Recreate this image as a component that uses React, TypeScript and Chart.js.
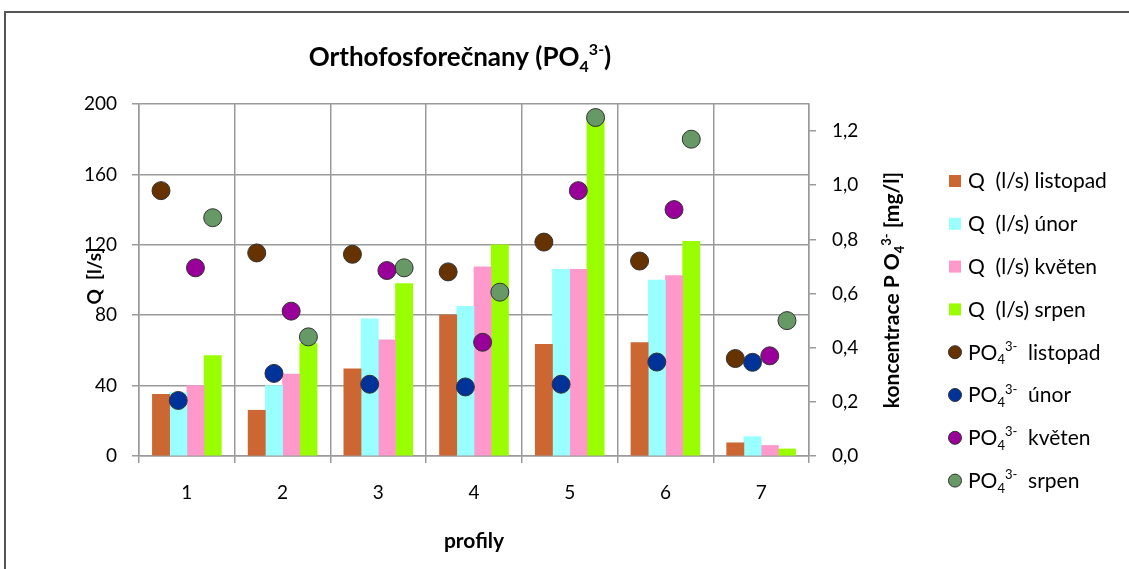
import React, { useEffect, useRef } from "react";
import { Chart, registerables } from "chart.js";

Chart.register(...registerables);

// Profiles along the stream
const profiles = ["1", "2", "3", "4", "5", "6", "7"];

// Discharge Q [l/s] per sampling month
const qListopad = [35, 26, 49.5, 80, 63.5, 64.5, 7.5];
const qUnor = [36, 40, 78, 85, 106, 100, 11];
const qKveten = [40, 46.5, 66, 107.5, 106, 102.5, 6];
const qSrpen = [57, 64, 98, 120, 192, 122, 4];

// Orthophosphate concentration [mg/l] per sampling month
const poListopad = [0.98, 0.75, 0.745, 0.68, 0.79, 0.72, 0.36];
const poUnor = [0.205, 0.305, 0.265, 0.255, 0.265, 0.347, 0.346];
const poKveten = [0.695, 0.535, 0.685, 0.42, 0.98, 0.91, 0.37];
const poSrpen = [0.88, 0.44, 0.695, 0.605, 1.25, 1.17, 0.5];

const months = ["listopad", "únor", "květen", "srpen"];
const qSeries = [qListopad, qUnor, qKveten, qSrpen];
const poSeries = [poListopad, poUnor, poKveten, poSrpen];

const barColors = ["#CC6633", "#99FFFF", "#FF99CC", "#99FF00"];
const pointColors = ["#663300", "#003399", "#990099", "#669966"];

const FONT = "Lato, 'Open Sans', sans-serif";
const GRID = "#9a9a9a";
// share of a category taken by the group of four monthly bars
const GROUP_WIDTH = 0.72;
const SLOT = GROUP_WIDTH / 4;

// position of month j inside profile i on the numeric profile axis
const slotX = (i: number, j: number) => i + 1 + (j - 1.5) * SLOT;

type Part = { t: string; k?: "sub" | "sup" };

function drawRich(
  ctx: CanvasRenderingContext2D,
  parts: Part[],
  x: number,
  y: number,
  size: number,
  bold: boolean,
  align: "left" | "center"
) {
  const w = bold ? "bold " : "";
  const small = Math.round(size * 0.62);
  const fontOf = (p: Part) => `${w}${p.k ? small : size}px ${FONT}`;
  let total = 0;
  for (const p of parts) {
    ctx.font = fontOf(p);
    total += ctx.measureText(p.t).width;
  }
  let cx = align === "center" ? x - total / 2 : x;
  ctx.textBaseline = "alphabetic";
  ctx.textAlign = "left";
  ctx.fillStyle = "#000";
  const base = y + size * 0.35;
  for (const p of parts) {
    ctx.font = fontOf(p);
    const dy = p.k === "sub" ? size * 0.22 : p.k === "sup" ? -size * 0.42 : 0;
    ctx.fillText(p.t, cx, base + dy);
    cx += ctx.measureText(p.t).width;
  }
}

const decorPlugin = {
  id: "decor",
  beforeDraw(chart: any) {
    const ctx = chart.ctx as CanvasRenderingContext2D;
    ctx.save();
    ctx.fillStyle = "#fff";
    ctx.fillRect(0, 0, chart.width, chart.height);
    ctx.strokeStyle = "#555";
    ctx.lineWidth = 2;
    ctx.strokeRect(5, 12, chart.width + 20, chart.height + 20);
    ctx.restore();
  },
  afterDraw(chart: any) {
    const ctx = chart.ctx as CanvasRenderingContext2D;
    const area = chart.chartArea;
    ctx.save();
    // title
    drawRich(
      ctx,
      [{ t: "Orthofosforečnany (PO" }, { t: "4", k: "sub" }, { t: "3-", k: "sup" }, { t: ")" }],
      460,
      57,
      26,
      true,
      "center"
    );
    // x axis title
    drawRich(ctx, [{ t: "profily" }], (area.left + area.right) / 2, 541, 21, true, "center");
    // left axis title
    ctx.save();
    ctx.translate(94, 276);
    ctx.rotate(-Math.PI / 2);
    drawRich(ctx, [{ t: "Q  [l/s]" }], 0, 0, 19, true, "center");
    ctx.restore();
    // right axis title
    ctx.save();
    ctx.translate(892, 290);
    ctx.rotate(-Math.PI / 2);
    drawRich(
      ctx,
      [{ t: "koncentrace P O" }, { t: "4", k: "sub" }, { t: "3-", k: "sup" }, { t: " [mg/l]" }],
      0,
      0,
      21,
      true,
      "center"
    );
    ctx.restore();
    // legend
    const lx = 955;
    const tx = 968;
    let ly = 181;
    const step = 42.8;
    months.forEach((m, j) => {
      ctx.fillStyle = barColors[j];
      ctx.fillRect(lx - 6, ly - 6, 12, 12);
      drawRich(ctx, [{ t: `Q  (l/s) ${m}` }], tx, ly, 21, false, "left");
      ly += step;
    });
    months.forEach((m, j) => {
      ctx.beginPath();
      ctx.arc(lx, ly, 6.5, 0, Math.PI * 2);
      ctx.fillStyle = pointColors[j];
      ctx.fill();
      ctx.lineWidth = 1;
      ctx.strokeStyle = "#333";
      ctx.stroke();
      drawRich(
        ctx,
        [{ t: "PO" }, { t: "4", k: "sub" }, { t: "3-", k: "sup" }, { t: `  ${m}` }],
        tx,
        ly,
        21,
        false,
        "left"
      );
      ly += step;
    });
    ctx.restore();
  },
};

export default function App() {
  const ref = useRef<HTMLCanvasElement | null>(null);

  useEffect(() => {
    if (!ref.current) return;
    // bars of one profile sit side by side, one slot per month
    const barSets = qSeries.map((vals, j) => ({
      type: "bar" as const,
      label: `Q (l/s) ${months[j]}`,
      data: vals.map((v, i) => ({ x: slotX(i, j), y: v })),
      backgroundColor: barColors[j],
      borderWidth: 0,
      grouped: false,
      categoryPercentage: 1,
      barPercentage: 1,
      xAxisID: "xp",
      yAxisID: "y",
      order: 2,
    }));
    // each marker sits above the centre of the bar of the same month
    const pointSets = poSeries.map((vals, j) => ({
      type: "line" as const,
      label: `PO4 ${months[j]}`,
      data: vals.map((v, i) => ({ x: slotX(i, j), y: v })),
      showLine: false,
      pointRadius: 9,
      pointHoverRadius: 9,
      pointBackgroundColor: pointColors[j],
      pointBorderColor: "#333",
      pointBorderWidth: 1,
      xAxisID: "xp",
      yAxisID: "y2",
      order: 1,
    }));

    const chart = new Chart(ref.current, {
      type: "line",
      data: { labels: profiles, datasets: [...barSets, ...pointSets] as any },
      plugins: [decorPlugin],
      options: {
        responsive: false,
        animation: false,
        layout: { padding: { top: 104, left: 0, right: 0, bottom: 0 } },
        plugins: { legend: { display: false }, title: { display: false }, tooltip: { enabled: false } },
        scales: {
          x: {
            type: "category",
            offset: true,
            grid: { color: GRID, lineWidth: 1.5, offset: true, tickLength: 7 },
            border: { color: GRID, width: 1.5 },
            ticks: { color: "#000", font: { family: FONT, size: 19 }, padding: 18 },
            afterFit: (s: any) => {
              s.height = 113;
            },
          },
          xp: { type: "linear", min: 0.5, max: 7.5, offset: false, display: false },
          y: {
            position: "left",
            min: 0,
            max: 200,
            grid: { color: GRID, lineWidth: 1.5, tickLength: 7 },
            border: { color: GRID, width: 1.5 },
            ticks: { stepSize: 40, color: "#000", font: { family: FONT, size: 19 }, padding: 15 },
            afterFit: (s: any) => {
              s.width = 139;
            },
          },
          y2: {
            position: "right",
            min: 0,
            max: 1.3,
            grid: { drawOnChartArea: false, color: GRID, lineWidth: 1.5, tickLength: 7 },
            border: { color: GRID, width: 1.5 },
            ticks: {
              stepSize: 0.2,
              color: "#000",
              font: { family: FONT, size: 19 },
              padding: 16,
              callback: (v: any) => Number(v).toFixed(1).replace(".", ","),
            },
            afterBuildTicks: (s: any) => {
              s.ticks = s.ticks.filter((t: any) => t.value <= 1.2 + 1e-9);
            },
            afterFit: (s: any) => {
              s.width = 320;
            },
          },
        },
      },
    });
    return () => chart.destroy();
  }, []);

  return (
    <div style={{ position: "fixed", left: 0, top: 0, width: 1129, height: 569, background: "#fff" }}>
      <canvas ref={ref} width={1129} height={569} style={{ display: "block" }} />
    </div>
  );
}
